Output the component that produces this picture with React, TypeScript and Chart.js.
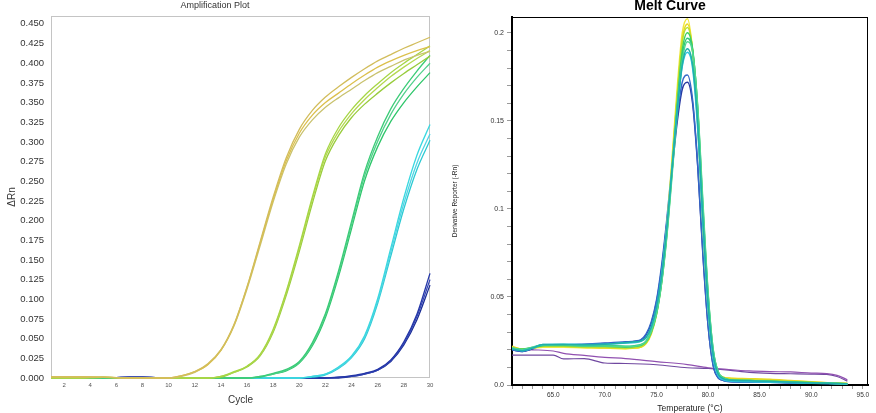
import React, { useEffect, useRef } from 'react';
import { Chart, registerables } from 'chart.js';

Chart.register(...registerables);

// ---------------- Amplification plot data ----------------
const cycles = [1, 2, 3, 4, 5, 6, 7, 8, 9, 10, 11, 12, 13, 14, 15, 16, 17, 18, 19, 20, 21, 22, 23, 24, 25, 26, 27, 28, 29, 30];

const g1a = [0.0015, 0.0015, 0.0015, 0.0015, 0.001, 0.0005, 0, 0, 0, 0, 0.003, 0.008, 0.018, 0.036, 0.068, 0.116, 0.173, 0.230, 0.280, 0.316, 0.340, 0.357, 0.370, 0.382, 0.393, 0.403, 0.411, 0.419, 0.426, 0.433];
const g1b = [0.0015, 0.0015, 0.0015, 0.0015, 0.001, 0.0005, 0, 0, 0, 0, 0.003, 0.008, 0.017, 0.035, 0.067, 0.115, 0.171, 0.227, 0.276, 0.311, 0.334, 0.350, 0.362, 0.374, 0.385, 0.395, 0.403, 0.410, 0.416, 0.421];
const g1c = [0.0015, 0.0015, 0.0015, 0.001, 0.001, 0.0005, 0, 0, 0, 0, 0.002, 0.007, 0.017, 0.035, 0.066, 0.113, 0.168, 0.224, 0.272, 0.306, 0.328, 0.344, 0.356, 0.367, 0.378, 0.388, 0.396, 0.404, 0.410, 0.415];

const g2a = [0, 0, 0, 0.0005, 0.0008, 0.0005, 0, 0, 0, 0, 0, 0, 0, 0.002, 0.008, 0.015, 0.030, 0.062, 0.110, 0.168, 0.230, 0.285, 0.318, 0.341, 0.359, 0.374, 0.388, 0.400, 0.411, 0.422];
const g2b = [0, 0, 0, 0.0005, 0.0008, 0.0005, 0, 0, 0, 0, 0, 0, 0, 0.002, 0.007, 0.015, 0.029, 0.060, 0.108, 0.165, 0.227, 0.281, 0.313, 0.336, 0.354, 0.369, 0.383, 0.395, 0.406, 0.416];
const g2c = [0, 0, 0, 0.0005, 0.0008, 0.0005, 0, 0, 0, 0, 0, 0, 0, 0.001, 0.007, 0.014, 0.028, 0.058, 0.105, 0.161, 0.222, 0.276, 0.308, 0.331, 0.348, 0.362, 0.375, 0.387, 0.398, 0.409];

const g3a = [0, 0, 0, 0, 0, 0, 0, 0, 0, 0, 0, 0, 0, 0, 0, 0, 0.002, 0.006, 0.011, 0.021, 0.045, 0.082, 0.136, 0.199, 0.262, 0.307, 0.342, 0.368, 0.390, 0.410];
const g3b = [0, 0, 0, 0, 0, 0, 0, 0, 0, 0, 0, 0, 0, 0, 0, 0, 0.002, 0.005, 0.010, 0.020, 0.043, 0.080, 0.133, 0.195, 0.257, 0.301, 0.335, 0.361, 0.382, 0.400];
const g3c = [0, 0, 0, 0, 0, 0, 0, 0, 0, 0, 0, 0, 0, 0, 0, 0, 0.001, 0.005, 0.009, 0.019, 0.041, 0.077, 0.129, 0.190, 0.251, 0.294, 0.326, 0.350, 0.370, 0.388];

const g4a = [0, 0, 0, 0, 0, 0, 0, 0, 0, 0, 0, 0, 0, 0, 0, 0, 0, 0, 0, 0, 0.002, 0.005, 0.014, 0.028, 0.054, 0.101, 0.165, 0.229, 0.283, 0.322];
const g4b = [0, 0, 0, 0, 0, 0, 0, 0, 0, 0, 0, 0, 0, 0, 0, 0, 0, 0, 0, 0, 0.002, 0.005, 0.013, 0.027, 0.052, 0.098, 0.160, 0.222, 0.273, 0.310];
const g4c = [0, 0, 0, 0, 0, 0, 0, 0, 0, 0, 0, 0, 0, 0, 0, 0, 0, 0, 0, 0, 0.001, 0.004, 0.012, 0.026, 0.050, 0.095, 0.155, 0.215, 0.265, 0.302];

const g5a = [0, 0, 0, 0, 0, 0.0005, 0.001, 0.001, 0.0005, 0, 0, 0, 0, 0, 0, 0, 0, 0, 0, 0, 0, 0, 0.001, 0.003, 0.006, 0.011, 0.023, 0.046, 0.081, 0.133];
const g5b = [0, 0, 0, 0, 0, 0.0005, 0.001, 0.001, 0.0005, 0, 0, 0, 0, 0, 0, 0, 0, 0, 0, 0, 0, 0, 0.001, 0.002, 0.005, 0.010, 0.022, 0.044, 0.078, 0.125];
const g5c = [0, 0, 0, 0, 0, 0.0005, 0.001, 0.001, 0.0005, 0, 0, 0, 0, 0, 0, 0, 0, 0, 0, 0, 0, 0, 0, 0.002, 0.005, 0.010, 0.021, 0.042, 0.074, 0.118];

const ampSeries = [g1a, g1b, g1c, g2a, g2b, g2c, g3a, g3b, g3c, g4a, g4b, g4c, g5a, g5b, g5c];
const ampColors = [
  '#d2bd5c', '#dcc04c', '#c9c26e',
  '#a6d645', '#b4d850', '#98cc3c',
  '#3ccc78', '#52d08c', '#2ec66a',
  '#3ad8e0', '#52d4e4', '#2ccad2',
  '#2436a8', '#3446b4', '#1a2c96',
];

// ---------------- Melt curve data ----------------
const meltTemps = [61, 62, 63, 64, 66, 68, 70, 72, 73, 73.5, 74, 74.5, 75, 75.5, 76, 76.5, 77, 77.5, 78, 78.5, 79, 79.5, 80, 80.5, 81, 81.5, 82, 84, 86, 88, 90, 92, 93.5];

const meltY1 = [0.0215, 0.0205, 0.021, 0.0215, 0.0215, 0.021, 0.021, 0.0205, 0.021, 0.0215, 0.024, 0.030, 0.041, 0.061, 0.090, 0.128, 0.168, 0.200, 0.208, 0.190, 0.148, 0.090, 0.044, 0.016, 0.006, 0.0042, 0.0038, 0.0034, 0.003, 0.0024, 0.0017, 0.0012, 0.0009];
const meltY2 = [0.022, 0.0205, 0.021, 0.022, 0.022, 0.0215, 0.021, 0.021, 0.021, 0.0215, 0.0235, 0.029, 0.040, 0.059, 0.087, 0.124, 0.163, 0.196, 0.205, 0.190, 0.150, 0.093, 0.046, 0.017, 0.0065, 0.0045, 0.004, 0.0036, 0.0032, 0.0025, 0.0018, 0.0012, 0.0009];
const meltYG = [0.021, 0.020, 0.021, 0.022, 0.022, 0.0215, 0.0215, 0.021, 0.0215, 0.022, 0.024, 0.030, 0.041, 0.060, 0.088, 0.125, 0.164, 0.195, 0.203, 0.190, 0.152, 0.095, 0.047, 0.017, 0.006, 0.0038, 0.0032, 0.0028, 0.0025, 0.002, 0.0015, 0.001, 0.0008];
const meltG1 = [0.021, 0.0205, 0.0215, 0.0225, 0.0225, 0.022, 0.022, 0.0215, 0.022, 0.0225, 0.0245, 0.030, 0.040, 0.058, 0.085, 0.120, 0.158, 0.190, 0.200, 0.191, 0.156, 0.100, 0.051, 0.019, 0.007, 0.004, 0.003, 0.0026, 0.0022, 0.0018, 0.0014, 0.001, 0.0007];
const meltG2 = [0.0205, 0.020, 0.021, 0.0225, 0.023, 0.0225, 0.0225, 0.022, 0.0225, 0.023, 0.025, 0.031, 0.041, 0.059, 0.086, 0.121, 0.157, 0.187, 0.197, 0.190, 0.157, 0.102, 0.052, 0.020, 0.0072, 0.004, 0.003, 0.0025, 0.0021, 0.0017, 0.0013, 0.001, 0.0007];
const meltG3 = [0.021, 0.020, 0.0215, 0.0228, 0.0228, 0.0222, 0.0222, 0.0218, 0.0222, 0.0228, 0.0248, 0.0305, 0.0405, 0.058, 0.084, 0.118, 0.154, 0.184, 0.195, 0.189, 0.158, 0.104, 0.053, 0.020, 0.0072, 0.004, 0.003, 0.0025, 0.002, 0.0016, 0.0012, 0.0009, 0.0007];
const meltT1 = [0.0205, 0.0195, 0.021, 0.023, 0.023, 0.0228, 0.0232, 0.024, 0.0245, 0.025, 0.027, 0.033, 0.044, 0.062, 0.089, 0.122, 0.155, 0.182, 0.191, 0.182, 0.148, 0.094, 0.046, 0.017, 0.006, 0.0035, 0.0028, 0.0024, 0.002, 0.0016, 0.0012, 0.0009, 0.0007];
const meltC1 = [0.0205, 0.0195, 0.021, 0.023, 0.0232, 0.023, 0.0232, 0.0238, 0.0242, 0.0248, 0.027, 0.033, 0.044, 0.063, 0.090, 0.123, 0.156, 0.181, 0.189, 0.180, 0.145, 0.090, 0.043, 0.015, 0.005, 0.003, 0.0022, 0.0018, 0.0016, 0.0013, 0.001, 0.0008, 0.0006];
const meltB1 = [0.020, 0.019, 0.021, 0.0228, 0.0228, 0.0232, 0.0238, 0.0245, 0.025, 0.0258, 0.029, 0.036, 0.048, 0.068, 0.094, 0.124, 0.152, 0.172, 0.176, 0.162, 0.125, 0.075, 0.034, 0.011, 0.004, 0.0026, 0.002, 0.0017, 0.0015, 0.0012, 0.001, 0.0008, 0.0006];
const meltB2 = [0.020, 0.019, 0.0205, 0.0225, 0.0225, 0.023, 0.0235, 0.0242, 0.0248, 0.0255, 0.0285, 0.035, 0.047, 0.066, 0.092, 0.121, 0.149, 0.168, 0.172, 0.160, 0.124, 0.074, 0.034, 0.011, 0.004, 0.0026, 0.002, 0.0017, 0.0015, 0.0012, 0.001, 0.0008, 0.0006];

const meltSeries = [meltT1, meltC1, meltG3, meltG2, meltG1, meltYG, meltY2, meltY1, meltB1, meltB2];
const meltColors = ['#20b0a8', '#30c4e0', '#50d890', '#30c878', '#40d060', '#b8e030', '#e8d820', '#f0e840', '#3468c8', '#2838a0'];

const ntcTemps = [61, 63, 65, 66, 68, 70, 72, 75, 78, 80, 82, 84, 86, 88, 90, 91.5, 92.5, 93.5];
const ntc1 = [0.0205, 0.020, 0.0193, 0.018, 0.0168, 0.0157, 0.015, 0.0133, 0.0116, 0.0098, 0.0088, 0.008, 0.0076, 0.0074, 0.0068, 0.0065, 0.0055, 0.003];
const ntc2 = [0.017, 0.017, 0.017, 0.0148, 0.015, 0.0125, 0.0122, 0.0115, 0.0098, 0.0094, 0.0085, 0.0072, 0.0066, 0.0064, 0.0062, 0.006, 0.0048, 0.0022];
const ntcColors = ['#9050b0', '#7048a0'];

const FONT = '"Liberation Sans", Arial, sans-serif';

const titlePlugin = (text: string, x: number, y: number, font: string, color: string) => ({
  id: 'customTitle',
  afterDraw(chart: any) {
    const ctx = chart.ctx;
    ctx.save();
    ctx.font = font;
    ctx.fillStyle = color;
    ctx.textAlign = 'center';
    ctx.textBaseline = 'middle';
    ctx.fillText(text, x, y);
    ctx.restore();
  },
});

const framePlugin = (color: string, sides: string[], width: number) => ({
  id: 'frame',
  beforeDatasetsDraw(chart: any) {
    const { ctx, chartArea: a } = chart;
    ctx.save();
    ctx.strokeStyle = color;
    ctx.lineWidth = width;
    ctx.beginPath();
    if (sides.includes('top')) { ctx.moveTo(a.left, a.top + 0.5); ctx.lineTo(a.right, a.top + 0.5); }
    if (sides.includes('right')) { ctx.moveTo(a.right - 0.5, a.top); ctx.lineTo(a.right - 0.5, a.bottom); }
    if (sides.includes('left')) { ctx.moveTo(a.left + 0.5, a.top); ctx.lineTo(a.left + 0.5, a.bottom); }
    if (sides.includes('bottom')) { ctx.moveTo(a.left, a.bottom - 0.5); ctx.lineTo(a.right, a.bottom - 0.5); }
    ctx.stroke();
    ctx.restore();
  },
});

function AmpChart() {
  const ref = useRef<HTMLCanvasElement>(null);
  useEffect(() => {
    if (!ref.current) return;
    const chart = new Chart(ref.current, {
      type: 'line',
      data: {
        labels: cycles,
        datasets: ampSeries.map((s, i) => ({
          data: cycles.map((c, j) => ({ x: c, y: s[j] })),
          borderColor: ampColors[i],
          borderWidth: 1.3,
          pointRadius: 0,
          fill: false,
          cubicInterpolationMode: 'monotone' as const,
          clip: 3,
        })),
      },
      options: {
        responsive: false,
        animation: false,
        events: [],
        layout: { padding: { top: 16, right: 10, left: 0, bottom: 0 } },
        plugins: { legend: { display: false }, tooltip: { enabled: false }, title: { display: false } },
        scales: {
          x: {
            type: 'linear',
            min: 1,
            max: 30,
            afterFit: (s: any) => { s.height = 35; },
            grid: { display: false, drawTicks: false },
            border: { display: false },
            ticks: {
              stepSize: 1,
              autoSkip: false,
              maxRotation: 0,
              includeBounds: false,
              padding: 4,
              color: '#555',
              font: { family: FONT, size: 6 },
              callback: (v: any) => (Number(v) % 2 === 0 ? String(v) : ''),
            },
            title: { display: true, text: 'Cycle', color: '#333', font: { family: FONT, size: 10 }, padding: { top: 0, bottom: 7 } },
          },
          y: {
            type: 'linear',
            min: 0,
            max: 0.46,
            afterFit: (s: any) => { s.width = 51; },
            grid: { display: false, drawTicks: false },
            border: { display: false },
            ticks: {
              stepSize: 0.025,
              autoSkip: false,
              includeBounds: false,
              padding: 7,
              color: '#333',
              font: { family: FONT, size: 9.5 },
              callback: (v: any) => Number(v).toFixed(3),
            },
            title: { display: true, text: 'ΔRn', color: '#333', font: { family: FONT, size: 10 }, padding: { top: 6, bottom: 0 } },
          },
        },
      },
      plugins: [
        framePlugin('#c4c4c4', ['top', 'right', 'left', 'bottom'], 1),
        titlePlugin('Amplification Plot', 215, 6, `9px ${FONT}`, '#333'),
      ],
    } as any);
    return () => chart.destroy();
  }, []);
  return <canvas ref={ref} width={440} height={413} style={{ display: 'block' }} />;
}

function MeltChart() {
  const ref = useRef<HTMLCanvasElement>(null);
  useEffect(() => {
    if (!ref.current) return;
    const sampleSets = meltSeries.map((s, i) => ({
      data: meltTemps.map((t, j) => ({ x: t, y: s[j] })),
      borderColor: meltColors[i],
      borderWidth: 1.5,
      pointRadius: 0,
      fill: false,
      cubicInterpolationMode: 'monotone' as const,
    }));
    const ntcSets = [ntc1, ntc2].map((s, i) => ({
      data: ntcTemps.map((t, j) => ({ x: t, y: s[j] })),
      borderColor: ntcColors[i],
      borderWidth: 1.2,
      pointRadius: 0,
      fill: false,
      cubicInterpolationMode: 'monotone' as const,
    }));
    const chart = new Chart(ref.current, {
      type: 'line',
      data: { datasets: [...sampleSets, ...ntcSets] },
      options: {
        responsive: false,
        animation: false,
        events: [],
        layout: { padding: { top: 17, right: 8, left: 0, bottom: 0 } },
        plugins: { legend: { display: false }, tooltip: { enabled: false }, title: { display: false } },
        scales: {
          x: {
            type: 'linear',
            min: 61,
            max: 95.5,
            afterFit: (s: any) => { s.height = 28; },
            grid: { display: true, drawOnChartArea: false, drawTicks: true, tickLength: 4, tickColor: '#9a9a9a' },
            border: { display: true, color: '#000', width: 2 },
            ticks: {
              stepSize: 1,
              autoSkip: false,
              maxRotation: 0,
              includeBounds: false,
              padding: 2,
              color: '#333',
              font: { family: FONT, size: 6.5 },
              callback: (v: any) => (Math.round(Number(v)) % 5 === 0 ? Number(v).toFixed(1) : ''),
            },
            title: { display: true, text: 'Temperature (°C)', color: '#222', font: { family: FONT, size: 8.5, lineHeight: 1 }, padding: { top: 0, bottom: 0 } },
          },
          y: {
            type: 'linear',
            min: 0,
            max: 0.209,
            afterFit: (s: any) => { s.width = 72; },
            grid: { display: true, drawOnChartArea: false, drawTicks: true, tickLength: 5, tickColor: '#9a9a9a' },
            border: { display: true, color: '#000', width: 2 },
            ticks: {
              stepSize: 0.01,
              autoSkip: false,
              includeBounds: false,
              padding: 3,
              color: '#333',
              font: { family: FONT, size: 7 },
              callback: (v: any) => {
                const n = Math.round(Number(v) * 100);
                if (n % 5 !== 0) return '';
                if (n === 0) return '0.0';
                return String(n / 100);
              },
            },
            title: { display: true, text: 'Derivative Reporter (-Rn)', color: '#222', font: { family: FONT, size: 6.5 }, padding: { top: 11, bottom: 0 } },
          },
        },
      },
      plugins: [
        framePlugin('#000', ['top', 'right'], 1),
        titlePlugin('Melt Curve', 230, 6, `bold 14px ${FONT}`, '#000'),
      ],
    } as any);
    return () => chart.destroy();
  }, []);
  return <canvas ref={ref} width={436} height={413} style={{ display: 'block' }} />;
}

export default function App() {
  return (
    <div style={{ position: 'absolute', left: 0, top: 0, width: 876, height: 413, background: '#fff', overflow: 'hidden' }}>
      <div style={{ position: 'absolute', left: 0, top: 0 }}>
        <AmpChart />
      </div>
      <div style={{ position: 'absolute', left: 440, top: 0 }}>
        <MeltChart />
      </div>
    </div>
  );
}
